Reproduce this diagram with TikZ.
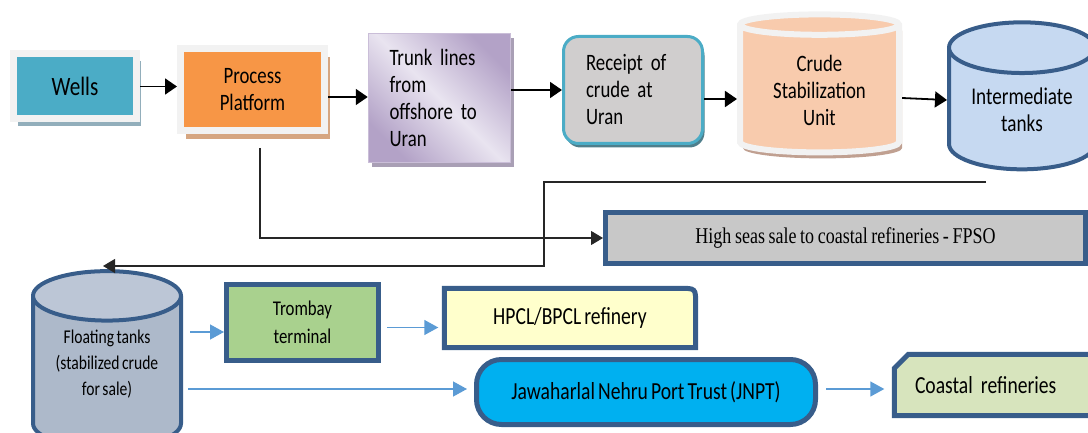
\documentclass[tikz,border=0pt]{standalone}
\usepackage{fontspec}
\setmainfont{Carlito}[FakeStretch=0.8, WordSpace=0.7]
\newfontfamily\seasfont{Liberation Serif}[FakeStretch=0.8, WordSpace=0.8]
\usepackage{tikz}
\usetikzlibrary{arrows.meta,shapes.geometric,shadows,backgrounds,positioning,calc}

\definecolor{framegray}{HTML}{F2F2F2}
\definecolor{wellsblue}{HTML}{4BACC6}
\definecolor{wellsshadow}{HTML}{92AEBB}
\definecolor{pporange}{HTML}{F79646}
\definecolor{ppshadow}{HTML}{D6A681}
\definecolor{trunkdark}{HTML}{B3A2C7}
\definecolor{trunklight}{HTML}{E9E4F0}
\definecolor{trunkshadow}{HTML}{A99FB5}
\definecolor{receiptgray}{HTML}{D0CECE}
\definecolor{receiptshadow}{HTML}{4F7F8C}
\definecolor{peach}{HTML}{F8CBAD}
\definecolor{peachshadow}{HTML}{C0A091}
\definecolor{edgeblue}{HTML}{385D8A}
\definecolor{tankblue}{HTML}{C6D9F1}
\definecolor{floatgray}{HTML}{ADB9CA}
\definecolor{floattop}{HTML}{BCC6D6}
\definecolor{seasgray}{HTML}{C8C8C8}
\definecolor{trombaygreen}{HTML}{A9D18E}
\definecolor{hpclyellow}{HTML}{FFFFCC}
\definecolor{jnptblue}{HTML}{00B0F0}
\definecolor{coastgreen}{HTML}{D7E4BD}
\definecolor{arrowblue}{HTML}{5B9BD5}

\tikzset{
  framebox/.style={rectangle, draw=framegray, line width=7pt, inner sep=0pt, align=center},
  tankshape/.style={cylinder, shape border rotate=90, inner sep=0pt, align=center},
  edgebox/.style={rectangle, draw=edgeblue, line width=5pt, inner sep=0pt, align=center},
  flow/.style={-{Triangle[length=12pt,width=16pt]}, line width=1.8pt},
  thinflow/.style={-{Triangle[length=12pt,width=14pt]}, line width=1.1pt, draw=black!85},
  blueflow/.style={-{Triangle[length=14pt,width=15pt]}, line width=1.4pt, draw=arrowblue},
  bigtext/.style={font=\fontsize{23.5}{27}\selectfont},
  lowtext/.style={font=\fontsize{24.5}{28}\selectfont},
}

\begin{document}
\begin{tikzpicture}[x=1pt, y=-1pt, line cap=butt, line join=miter]

\useasboundingbox (0,0) rectangle (1088,433);

% ------------------ top row: offshore to Uran ------------------
\node[framebox, fill=wellsblue, minimum width=123pt, minimum height=65pt,
  drop shadow={shadow xshift=4pt, shadow yshift=-7pt, fill=wellsshadow, opacity=1},
  font=\fontsize{26.5}{30}\selectfont] (wells) at (75,86.5) {Wells};

\node[framebox, fill=pporange, minimum width=144pt, minimum height=82pt,
  drop shadow={shadow xshift=5pt, shadow yshift=-8pt, fill=ppshadow, opacity=1},
  bigtext] (pp) at (252.5,90) {Process\\Platform};

\node[rectangle, draw=trunkdark!70, line width=1.5pt, inner sep=0pt,
  minimum width=142pt, minimum height=129pt, text width=100pt, align=left,
  top color=trunkdark, bottom color=trunkdark, middle color=trunklight, shading angle=-45,
  drop shadow={shadow xshift=3pt, shadow yshift=-5pt, fill=trunkshadow, opacity=1},
  bigtext] (trunk) at (439.5,98) {Trunk lines\\from\\offshore to\\Uran};

\node[rectangle, rounded corners=15pt, draw=wellsblue, line width=3pt, fill=receiptgray,
  inner sep=0pt, minimum width=139pt, minimum height=107pt, text width=94pt, align=left,
  drop shadow={shadow xshift=2pt, shadow yshift=-4pt, fill=receiptshadow, opacity=1},
  bigtext] (receipt) at (633,90) {Receipt of\\crude at\\Uran};

\node[tankshape, draw=framegray, line width=6pt, aspect=0.22, fill=peach,
  minimum width=159pt, minimum height=138pt,
  drop shadow={shadow xshift=3pt, shadow yshift=-6pt, fill=peachshadow, opacity=1},
  bigtext] (crude) at (819.5,90) {Crude\\Stabilization\\Unit};

\node[tankshape, draw=edgeblue, line width=4pt, aspect=0.5, fill=tankblue,
  minimum width=146pt, minimum height=147pt, font=\fontsize{24}{27}\selectfont]
  (inter) at (1022,109.5) {Intermediate\\tanks};

% arrows along the top row
\draw[flow] (wells.east) -- (pp.west |- wells.east);
\draw[flow] ([yshift=-7pt]pp.east) -- ([yshift=-7pt]pp.east -| trunk.west);
\draw[flow] (trunk.east |- receipt.west) -- (receipt.west);
\draw[flow] ([yshift=-9pt]receipt.east) -- ([yshift=-9pt]receipt.east -| crude.west);
\draw[flow] ([yshift=-8pt]crude.east) -- ([yshift=9.5pt]inter.west);

% ------------------ high seas sale ------------------
\node[edgebox, fill=seasgray, minimum width=480pt, minimum height=51pt,
  font=\seasfont\fontsize{22.5}{27}\selectfont] (seas) at (845.5,238)
  {High seas sale to coastal refineries - FPSO};

\coordinate (ppdrop) at (260,148);
\draw[thinflow] (ppdrop) |- (seas.west);

% ------------------ bottom: sale of stabilized crude ------------------
\node[tankshape, draw=edgeblue, line width=4pt, aspect=0.48,
  cylinder uses custom fill, cylinder body fill=floatgray, cylinder end fill=floattop,
  minimum width=148pt, minimum height=177pt] (float) at (107,373)
  {\phantom{\rule{103pt}{71pt}}};
\node[font=\fontsize{19.5}{26}\selectfont, align=center] (floatlabel) at (107,364)
  {Floating tanks\\(stabilized crude\\for sale)};

% return line from the intermediate tanks to the floating tanks
\coordinate (tankout) at (986,182);
\coordinate (bend) at (544,266);
\coordinate (floatin) at (103,266);
\draw[thinflow] (tankout) -| (bend) -- (floatin);

\node[edgebox, fill=trombaygreen, minimum width=152pt, minimum height=76pt,
  font=\fontsize{21}{28}\selectfont] (trombay) at (302.5,322.5) {Trombay\\terminal};

\node[inner sep=0pt, minimum width=251pt, minimum height=59pt, lowtext] (hpcl)
  at (570,318) {HPCL/BPCL refinery};

\node[rectangle, rounded corners=25pt, draw=edgeblue, line width=5pt, fill=jnptblue,
  inner sep=0pt, minimum width=339pt, minimum height=65pt, lowtext] (jnpt)
  at (646,392) {Jawaharlal Nehru Port Trust (JNPT)};

\node[inner sep=0pt, minimum width=205pt, minimum height=61pt, text width=164pt,
  align=left, lowtext] (coastal) at (997,385) {Coastal refineries};

\begin{pgfonlayer}{background}
  % yellow box, one round corner
  \draw[edgeblue, line width=5pt, fill=hpclyellow]
    (hpcl.south west) -- (hpcl.north west) -- ($(hpcl.north east)+(-16,0)$)
    .. controls (hpcl.north east) .. ($(hpcl.north east)+(0,16)$)
    -- (hpcl.south east) -- cycle;
  % green box, snipped corner
  \draw[edgeblue, line width=5pt, fill=coastgreen]
    ($(coastal.north west)+(14,0)$) -- (coastal.north east) -- (coastal.south east)
    -- (coastal.south west) -- ($(coastal.north west)+(0,14)$) -- cycle;
\end{pgfonlayer}

% blue arrows
\draw[blueflow, shorten <=7pt] ([yshift=-9.5pt]trombay.west -| float.east)
  -- ([yshift=-9.5pt]trombay.west);
\draw[blueflow, shorten <=6pt, shorten >=6pt] ([yshift=-5pt]trombay.east)
  -- ([yshift=-5pt]trombay.east -| hpcl.west);
\draw[blueflow, shorten <=5pt, shorten >=7pt] ([yshift=3pt]jnpt.west -| float.east)
  -- ([yshift=3pt]jnpt.west);
\draw[blueflow, shorten <=8pt, shorten >=10pt] ([yshift=3pt]jnpt.east)
  -- ([yshift=3pt]jnpt.east -| coastal.west);

\end{tikzpicture}
\end{document}
